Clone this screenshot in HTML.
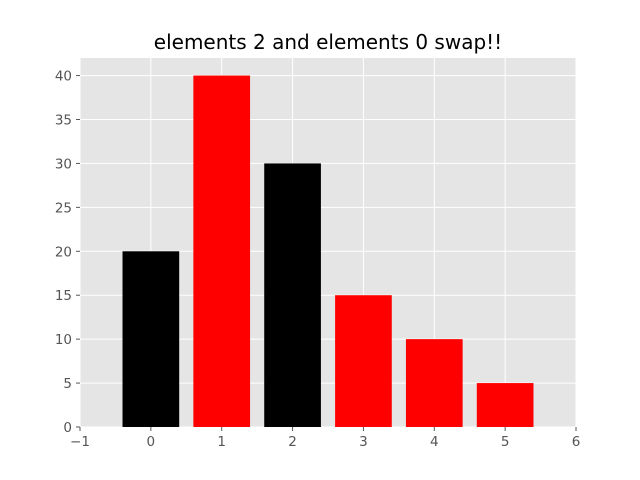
<!DOCTYPE html>
<html><head><meta charset="utf-8">
<style>
body{margin:0;background:#fff;}
svg{display:block;font-family:"DejaVu Sans","Liberation Sans",sans-serif;}
</style></head>
<body>
<svg id="chart" width="640" height="480">
  <rect x="0" y="0" width="640" height="480" fill="#fff"/>
  <rect x="80" y="58" width="496" height="369" fill="#e5e5e5"/>
  <g id="grid"></g>
  <g id="bars"></g>
  <g id="ticks"></g>
  <text x="328" y="49" text-anchor="middle" font-size="20" fill="#000">elements 2 and elements 0 swap!!</text>
</svg>
<script>
const categories = [0, 1, 2, 3, 4, 5];
const values = [20, 40, 30, 15, 10, 5];
const barColors = ["#000000", "#ff0000", "#000000", "#ff0000", "#ff0000", "#ff0000"];
const xTicks = [-1, 0, 1, 2, 3, 4, 5, 6];
const yTicks = [0, 5, 10, 15, 20, 25, 30, 35, 40];

const NS = "http://www.w3.org/2000/svg";
const L = 80, R = 576, T = 58, B = 427;
const xMin = -1, xMax = 6, yMin = 0, yMax = 42;
const xs = v => L + (v - xMin) / (xMax - xMin) * (R - L);
const ys = v => B - (v - yMin) / (yMax - yMin) * (B - T);
function mk(tag, attrs, parent) {
  const e = document.createElementNS(NS, tag);
  for (const k in attrs) e.setAttribute(k, attrs[k]);
  parent.appendChild(e);
  return e;
}
const grid = document.getElementById("grid");
const bars = document.getElementById("bars");
const ticks = document.getElementById("ticks");

xTicks.forEach(t => {
  const x = xs(t);
  const g = mk("line", {x1: x, x2: x, y1: T, y2: B, stroke: "#fff", "stroke-width": 1}, grid);
  
  
  const tk = mk("line", {x1: x, x2: x, y1: B, y2: B + 4, stroke: "#555", "stroke-width": 1}, ticks);
  
  
  const tx = mk("text", {x: x, y: B + 19, "text-anchor": "middle", "font-size": 13.5, fill: "#555"}, ticks);
  tx.textContent = t < 0 ? "\u2212" + Math.abs(t) : String(t);
  
  
});
yTicks.forEach(t => {
  const y = ys(t);
  const g = mk("line", {x1: L, x2: R, y1: y, y2: y, stroke: "#fff", "stroke-width": 1}, grid);
  
  
  const tk = mk("line", {x1: L - 4, x2: L, y1: y, y2: y, stroke: "#555", "stroke-width": 1}, ticks);
  
  
  const tx = mk("text", {x: L - 8, y: y + 5, "text-anchor": "end", "font-size": 13.5, fill: "#555"}, ticks);
  tx.textContent = String(t);
  
  
});
categories.forEach((c, i) => {
  const x0 = xs(c - 0.4), x1 = xs(c + 0.4);
  const y0 = ys(values[i]);
  const r = mk("rect", {x: x0, y: y0, width: x1 - x0, height: ys(0) - y0, fill: barColors[i]}, bars);
  
  
});
</script>
</body></html>
